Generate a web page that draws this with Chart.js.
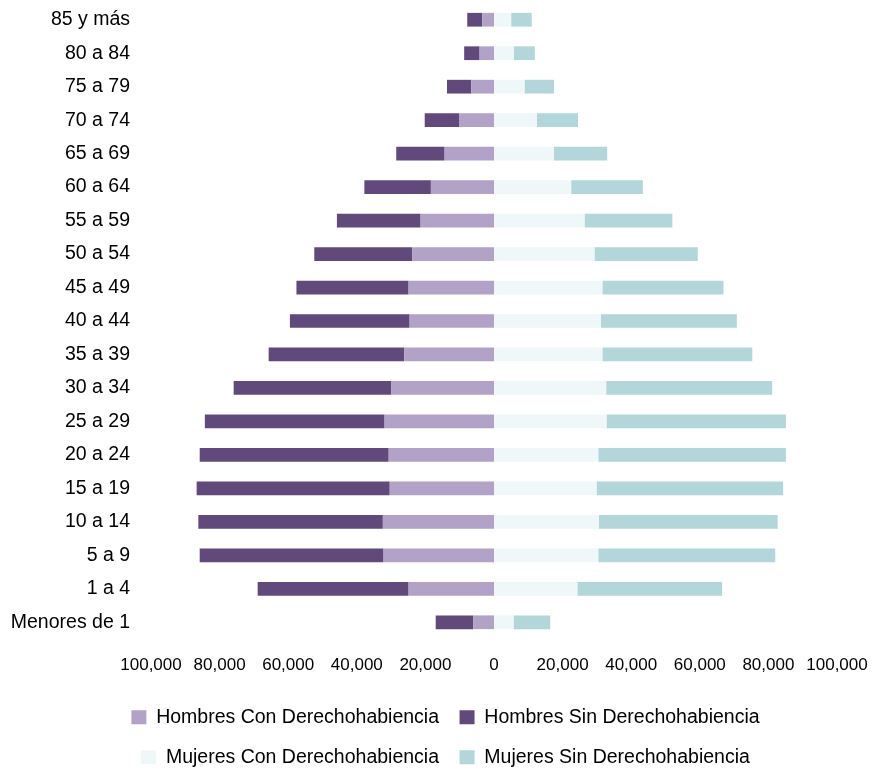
<!DOCTYPE html>
<html>
<head>
<meta charset="utf-8">
<script src="https://cdn.jsdelivr.net/npm/chart.js@4"></script>
<style>
  html, body { margin: 0; padding: 0; background: #fff; }
  #wrap { width: 875px; height: 770px; }
</style>
</head>
<body>
<div id="wrap"><canvas id="pyramid" width="875" height="770"></canvas></div>
<script>
// age groups, top to bottom
const ageGroups = ["85 y más", "80 a 84", "75 a 79", "70 a 74", "65 a 69", "60 a 64", "55 a 59",
  "50 a 54", "45 a 49", "40 a 44", "35 a 39", "30 a 34", "25 a 29", "20 a 24", "15 a 19",
  "10 a 14", "5 a 9", "1 a 4", "Menores de 1"];

// men (drawn to the left)
const hombresCon = [3400, 4200, 6600, 10200, 14400, 18400, 21400, 23800, 24900, 24600, 26200,
  29900, 31900, 30700, 30400, 32400, 32200, 24900, 6000];
const hombresSin = [4400, 4500, 7100, 10000, 14100, 19400, 24400, 28600, 32700, 34900, 39500,
  46000, 52400, 55100, 56300, 53800, 53600, 44000, 11000];

// women (drawn to the right)
const mujeresCon = [5000, 5800, 8900, 12500, 17500, 22500, 26400, 29300, 31600, 31200, 31600,
  32700, 32800, 30400, 29900, 30600, 30400, 24300, 5700];
const mujeresSin = [6000, 6100, 8600, 12000, 15500, 20900, 25600, 30100, 35300, 39600, 43700,
  48400, 52300, 54700, 54400, 52100, 51600, 42200, 10700];

const xTicks = [-100000, -80000, -60000, -40000, -20000, 0, 20000, 40000, 60000, 80000, 100000];

const FONT = "'Liberation Sans', Arial, sans-serif";

const neg = arr => arr.map(v => -v);

// nudge the legend to the right, like the original
const legendShift = {
  id: "legendShift",
  afterLayout(chart) {
    chart.legend.left += 27;
    chart.legend.right += 27;
  }
};

new Chart(document.getElementById("pyramid"), {
  type: "bar",
  data: {
    labels: ageGroups,
    datasets: [
      { label: "Hombres Con Derechohabiencia", data: neg(hombresCon), backgroundColor: "#b3a2c8" },
      { label: "Hombres Sin Derechohabiencia", data: neg(hombresSin), backgroundColor: "#614a7b" },
      { label: "Mujeres Con Derechohabiencia", data: mujeresCon, backgroundColor: "#eff7f9" },
      { label: "Mujeres Sin Derechohabiencia", data: mujeresSin, backgroundColor: "#b2d6da" }
    ]
  },
  plugins: [legendShift],
  options: {
    indexAxis: "y",
    responsive: false,
    animation: false,
    layout: { padding: { top: 3, right: 38, left: 0, bottom: -7 } },
    datasets: { bar: { categoryPercentage: 1, barPercentage: 0.41, borderWidth: 0 } },
    scales: {
      x: {
        stacked: true,
        min: -100000,
        max: 100000,
        afterBuildTicks: s => { s.ticks = xTicks.map(v => ({ value: v })); },
        afterFit: s => { s.height = 48; s.paddingLeft = 0; s.paddingRight = 0; },
        grid: { display: false, drawTicks: false },
        border: { display: false },
        ticks: {
          color: "#000",
          font: { family: FONT, size: 17 },
          padding: 16,
          autoSkip: false,
          maxRotation: 0,
          callback: v => Math.abs(v).toLocaleString("en-US")
        }
      },
      y: {
        stacked: true,
        grid: { display: false, drawTicks: false },
        border: { display: false },
        afterFit: s => { s.width = 151; s.paddingTop = 0; s.paddingBottom = 0; },
        ticks: { color: "#000", font: { family: FONT, size: 19.5 }, padding: 21, autoSkip: false }
      }
    },
    plugins: {
      tooltip: { enabled: false },
      legend: {
        position: "bottom",
        labels: {
          color: "#000",
          font: { family: FONT, size: 19.5 },
          boxWidth: 15,
          boxHeight: 14,
          padding: 20.5
        }
      }
    }
  }
});
</script>
</body>
</html>
